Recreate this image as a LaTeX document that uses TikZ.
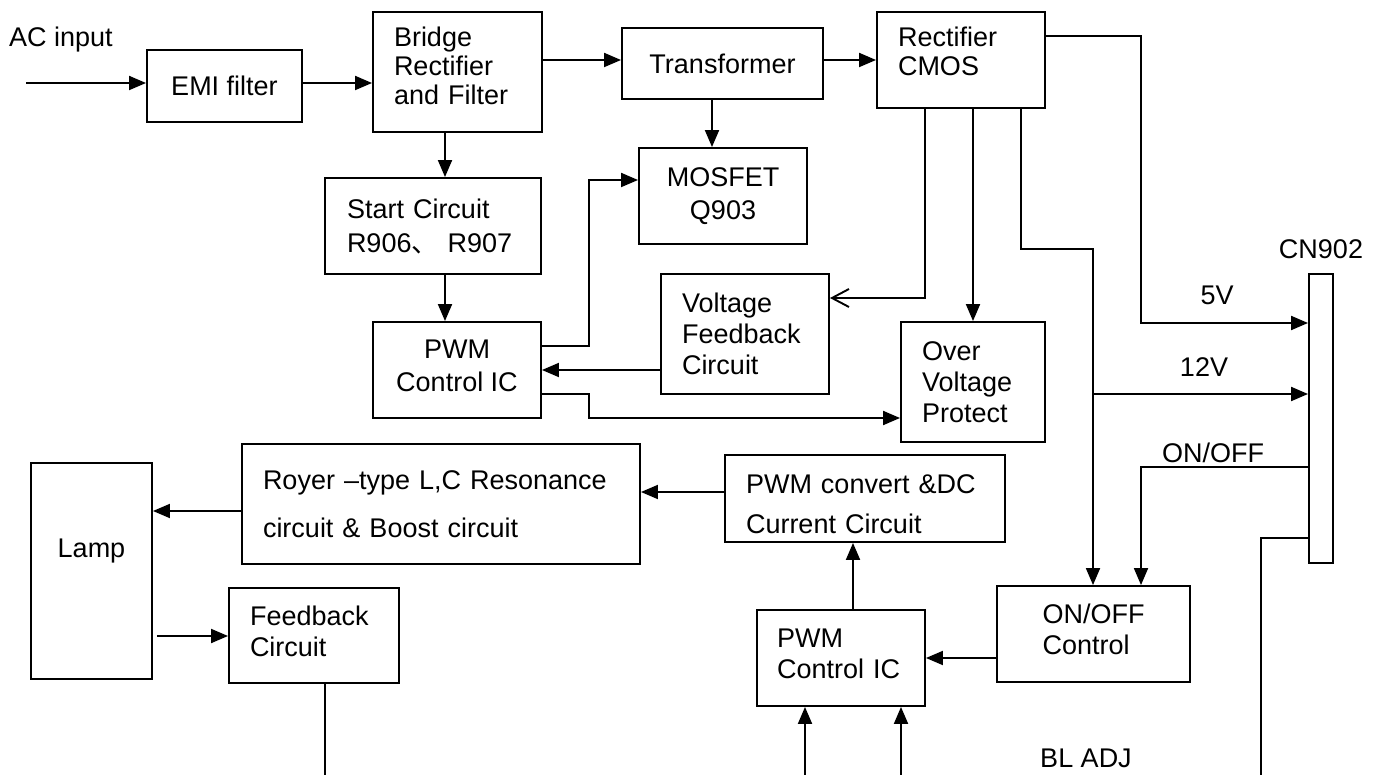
\documentclass[tikz,border=0pt]{standalone}
\usepackage{fontspec}
\setmainfont{Liberation Sans}
\newfontfamily\cjk{Noto Sans CJK SC}
\usetikzlibrary{arrows.meta,calc}
\newcommand\dfont{\fontsize{27}{31}\selectfont}
\newcommand\dn[1]{\rule[-#1]{0pt}{#1}}
\newcommand\up[1]{\rule{0pt}{#1}}
\begin{document}
\begin{tikzpicture}[x=1pt,y=-1pt,
  box/.style={draw,line width=1.9pt,inner ysep=0pt,inner xsep=0pt,font=\dfont},
  lb/.style={align=left},
  lbl/.style={inner sep=0pt,font=\dfont},
  arr/.style={line width=1.9pt,-{Triangle[length=17pt,width=14pt]}},
  openarr/.style={line width=1.9pt,-{Straight Barb[length=17pt,width=18pt]}},
  wire/.style={line width=1.9pt}]
\useasboundingbox (0,0) rectangle (1381,775);

% boxes
\node[box,minimum width=155pt,minimum height=72pt] (emi) at (224.5,86) {EMI filter};
\node[box,lb,minimum width=169pt,minimum height=120pt,text width=127pt,inner xsep=21pt] (bridge) at (457.5,72) {Bridge\\[-2pt]Rectifier\\[-2pt]and Filter\dn{12pt}};
\node[box,minimum width=201pt,minimum height=71pt] (trans) at (722.5,63.5) {Transformer};
\node[box,lb,minimum width=168pt,minimum height=96pt,text width=126pt,inner xsep=21pt] (rect) at (961,60) {Rectifier\\[-2pt]CMOS\dn{18pt}};
\node[box,align=center,minimum width=168pt,minimum height=96pt] (mos) at (723,196) {MOSFET\\[2pt]Q903};
\node[box,lb,minimum width=216pt,minimum height=96pt,text width=172pt,inner xsep=22pt] (start) at (433,226) {Start Circuit\\[3pt]R906{\cjk 、} R907};
\node[box,align=center,minimum width=168pt,minimum height=96pt] (pwma) at (457,370) {PWM\\[2pt]Control IC\dn{8pt}};
\node[box,lb,minimum width=168pt,minimum height=120pt,text width=126pt,inner xsep=21pt] (vf) at (745,334) {Voltage\\Feedback\\Circuit};
\node[box,lb,minimum width=144pt,minimum height=120pt,text width=102pt,inner xsep=21pt] (ovp) at (973,382) {Over\\Voltage\\Protect};
\node[box,lb,minimum width=398pt,minimum height=120pt,text width=356pt,inner xsep=21pt] (royer) at (441,504) {Royer –type L,C Resonance\\[17pt]circuit \& Boost circuit};
\node[box,lb,minimum width=280pt,minimum height=87pt,text width=238pt,inner xsep=21pt] (conv) at (865,498.5) {\up{30pt}PWM convert \&DC\\[9pt]Current Circuit};
\node[box,minimum width=121pt,minimum height=216pt,text height=20pt,text depth=48pt] (lamp) at (91.5,571) {Lamp};
\node[box,lb,minimum width=170pt,minimum height=95pt,text width=128pt,inner xsep=21pt] (fb) at (314,635.5) {Feedback\\Circuit\dn{8pt}};
\node[box,lb,minimum width=168pt,minimum height=96pt,text width=128pt,inner xsep=20pt] (pwmb) at (841,658) {PWM\\Control IC\dn{8pt}};
\node[box,lb,minimum width=193pt,minimum height=96pt] (onoff) at (1093.5,634) {ON/OFF\\Control\dn{10pt}};
\node[box,minimum width=24pt,minimum height=289pt] (cn) at (1321,418.5) {};

% labels
\node[lbl] (acl) at (61,40) {AC input};
\node[lbl] (v5) at (1217,295) {5V};
\node[lbl] (v12) at (1204,367) {12V};
\node[lbl] (cnl) at (1321,249) {CN902};
\node[lbl] (onl) at (1213,453) {ON/OFF};
\node[lbl] (bladj) at (1086,758) {BL ADJ};

% helper coordinates
\coordinate (acin) at (26,83);
\coordinate (y60) at (0,60);
\coordinate (x712) at (712,0);
\coordinate (x445) at (445,0);
\coordinate (k1) at (589,346);
\coordinate (k2) at (589,180);
\coordinate (k3) at (589,394);
\coordinate (k4) at (589,418);
\coordinate (k5) at (925,298);
\coordinate (k6) at (1021,249);
\coordinate (k7) at (1093,249);
\coordinate (k8) at (1093,394);
\coordinate (k9) at (1141,36);
\coordinate (k10) at (1141,323);
\coordinate (k11) at (1141,467);
\coordinate (k12) at (1261,538);
\coordinate (k13) at (1261,775);
\coordinate (x853) at (853,0);
\coordinate (k14) at (0,492);
\coordinate (k15) at (0,511);
\coordinate (k16) at (0,636);
\coordinate (fbend) at (325,775);
\coordinate (b1) at (805,775);
\coordinate (b2) at (901,775);

% connectors
\draw[arr] (acin) -- (acin -| emi.west);
\draw[arr] (emi.east |- acin) -- (bridge.west |- acin);
\draw[arr] (bridge.east |- y60) -- (trans.west |- y60);
\draw[arr] (trans.east |- y60) -- (rect.west |- y60);
\draw[arr] (trans.south -| x712) -- (mos.north -| x712);
\draw[arr] (bridge.south -| x445) -- (start.north -| x445);
\draw[arr] (start.south -| x445) -- (pwma.north -| x445);
\draw[arr] (pwma.east |- k1) -- (k1) -- (k2) -- (mos.west |- k2);
\draw[arr] (vf.west |- pwma.east) -- (pwma.east);
\draw[arr] (pwma.east |- k3) -- (k3) -- (k4) -- (ovp.west |- k4);
\draw[openarr] (rect.south -| k5) -- (k5) -- (vf.east |- k5);
\draw[arr] (rect.south -| ovp.north) -- (ovp.north);
\draw[arr] (rect.south -| k6) -- (k6) -- (k7) -- (onoff.north -| k7);
\draw[arr] (k8) -- (cn.west |- k8);
\draw[arr] (rect.east |- k9) -- (k9) -- (k10) -- (cn.west |- k10);
\draw[arr] (cn.west |- k11) -- (k11) -- (onoff.north -| k11);
\draw[wire] (cn.west |- k12) -- (k12) -- (k13);
\draw[arr] (onoff.west |- pwmb.east) -- (pwmb.east);
\draw[arr] (pwmb.north -| x853) -- (conv.south -| x853);
\draw[arr] (conv.west |- k14) -- (royer.east |- k14);
\draw[arr] (royer.west |- k15) -- (lamp.east |- k15);
\draw[arr] ($(lamp.east |- k16)+(4,0)$) -- (fb.west |- k16);
\draw[wire] (fb.south -| fbend) -- (fbend);
\draw[arr] (b1) -- (pwmb.south -| b1);
\draw[arr] (b2) -- (pwmb.south -| b2);
\end{tikzpicture}
\end{document}
